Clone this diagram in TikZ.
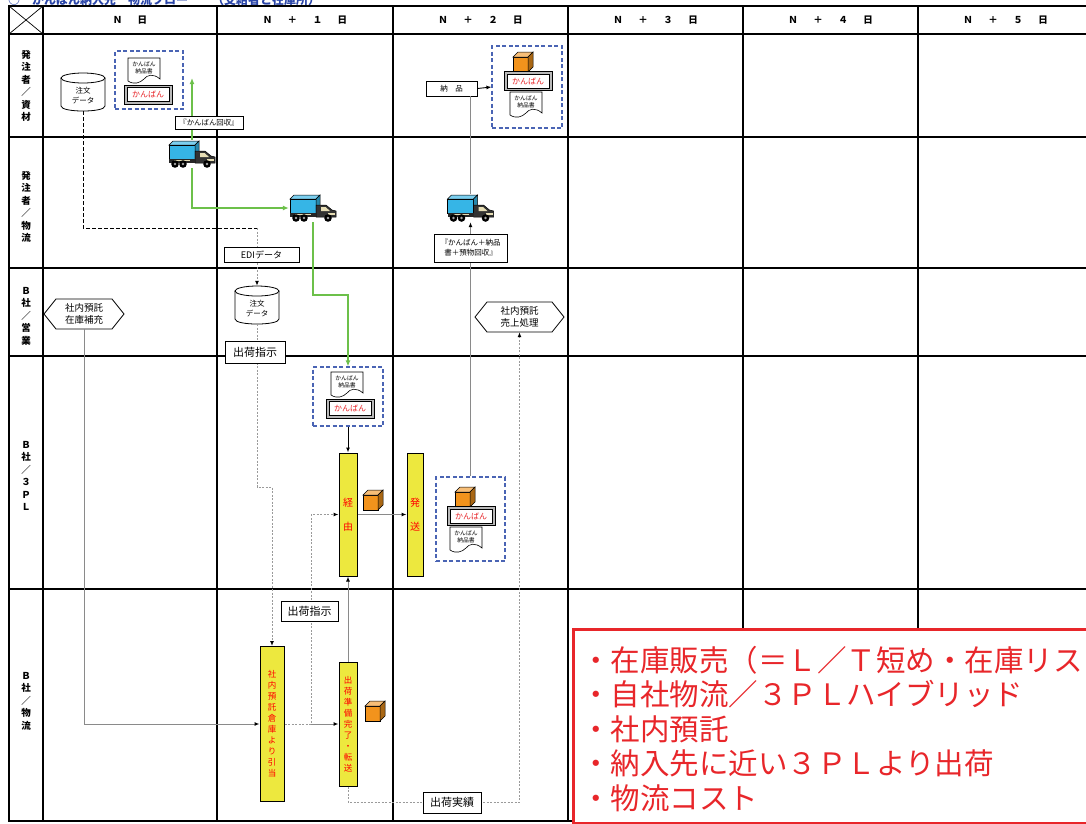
\documentclass[tikz,border=0pt]{standalone}
\usepackage{fontspec}
\setmainfont{Noto Sans CJK JP}
\usetikzlibrary{arrows.meta}

\definecolor{frameblue}{HTML}{4A64B4}
\definecolor{flowgreen}{HTML}{6CC04A}
\definecolor{baryellow}{HTML}{EDE83E}
\definecolor{memored}{HTML}{E8262A}
\definecolor{boxorange}{HTML}{F2931C}
\definecolor{truckcyan}{HTML}{36B5E6}
\definecolor{cabbeige}{HTML}{E6DDB4}
\definecolor{titleblue}{HTML}{2A45A8}
\definecolor{linegray}{HTML}{8A8A8A}
\definecolor{dotgray}{HTML}{9A9A9A}

\newcommand\fsz[2]{\fontsize{#1}{#2}\selectfont}
\newcommand\hsep{\hspace{15.5pt}}

% database drum centred at (#1,#2): 44 wide, 38 high
\newcommand\dbdrum[2]{%
  \draw[line width=0.8pt, fill=white]
    (#1-22,#2-14) -- (#1-22,#2+14)
    .. controls (#1-22,#2+20.7) and (#1+22,#2+20.7) .. (#1+22,#2+14)
    -- (#1+22,#2-14);
  \draw[line width=0.8pt, fill=white] (#1,#2-14) ellipse [x radius=22, y radius=5];
}
% hexagonal preparation symbol centred at (#1,#2), half width #3, half height #4
\newcommand\prephex[4]{%
  \draw[line width=0.8pt, fill=white]
    (#1-#3,#2) -- (#1-#3+12,#2-#4) -- (#1+#3-12,#2-#4) -- (#1+#3,#2)
    -- (#1+#3-12,#2+#4) -- (#1-#3+12,#2+#4) -- cycle;
}

\tikzset{
  gridline/.style={line width=2pt, line cap=rect},
  hdr/.style={font=\bfseries\fsz{9.5}{9.5}, inner sep=0pt},
  lane/.style={font=\bfseries\fsz{9.5}{12.5}, align=center, inner sep=0pt},
  tag/.style={draw, line width=0.9pt, fill=white, inner sep=0pt, align=center},
  drumspot/.style={minimum width=44, minimum height=38, inner sep=0pt},
  drumtext/.style={inner sep=0pt, align=center, font=\fsz{7.5}{9.5}},
  hextext/.style={inner sep=0pt, align=center, font=\fsz{9.5}{12}},
  kbframe/.style={draw=frameblue, line width=1.2pt, dash pattern=on 4pt off 2.5pt, inner sep=0pt},
  ybar/.style={draw, line width=1pt, fill=baryellow, text=red, inner sep=0pt, align=center},
  truckspot/.style={minimum width=48, minimum height=28, inner sep=0pt},
  headed/.style={-{Latex[length=5pt,width=4pt,color=black]}},
  green flow/.style={draw=flowgreen, line width=1.5pt, -{Latex[length=6pt,width=5pt]}},
  gray flow/.style={draw=linegray, line width=1pt},
  dot flow/.style={draw=dotgray, line width=1pt, dash pattern=on 2pt off 1.5pt},
  dash flow/.style={draw=black, line width=0.9pt, dash pattern=on 3.5pt off 2.5pt},
  memoline/.style={anchor=base west, inner sep=0pt, text=memored, font=\fsz{29.5}{29.5}},
  pics/kbcard/.style={code={
    \draw[line width=0.6pt, fill=gray!55] (-24,-9.5) rectangle (24,9.5);
    \draw[line width=0.6pt, fill=white] (-21,-7) rectangle (21,7);
    \node[text=memored, font=\fsz{8}{8}, inner sep=0pt] (-t) at (0,0) {かんばん};
  }},
  pics/kbdoc/.style={code={
    \draw[line width=0.6pt, fill=white] (-16,-13) -- (16,-13) -- (16,8)
      .. controls (9,2) and (3,4) .. (0,8) .. controls (-4,12) and (-10,14) .. (-16,10) -- cycle;
    \node[font=\fsz{5.8}{7.5}, align=center, inner sep=0pt] (-t) at (0,-3) {かんばん\\納品書};
  }},
  pics/kbbox/.style={code={
    \draw[line width=0.5pt, fill=boxorange] (-10,-5) rectangle (5,10);
    \draw[line width=0.5pt, fill=boxorange!60!white] (-10,-5) -- (-5,-10) -- (10,-10) -- (5,-5) -- cycle;
    \draw[line width=0.5pt, fill=boxorange!70!black] (5,-5) -- (10,-10) -- (10,5) -- (5,10) -- cycle;
  }},
  pics/truck/.style={code={
    \draw[line width=0.5pt, fill=truckcyan!65!white] (-23,-9) -- (-19,-13) -- (7,-13) -- (3,-9) -- cycle;
    \draw[line width=0.5pt, fill=truckcyan] (-23,-9) rectangle (3,5);
    \draw[line width=0.5pt, fill=truckcyan!75!black] (3,-9) -- (7,-13) -- (7,1) -- (3,5) -- cycle;
    \draw[line width=0.5pt, fill=black!80] (3,-3) -- (13,-3) -- (19,2) -- (23,3) -- (23,9) -- (3,9) -- cycle;
    \fill[cabbeige] (8,-1) -- (12.5,-1) -- (17,3) -- (8,3) -- cycle;
    \fill[cabbeige] (15,5) rectangle (22,7);
    \fill[black!85] (-23,5) rectangle (3,9);
    \fill[cabbeige] (-18,6) rectangle (-2,7.2);
    \foreach \wx in {-17,-9,15} {
      \fill[black] (\wx,10) circle[radius=3.8];
      \fill[gray!70] (\wx,10) circle[radius=1.3];
    }
  }},
}

\begin{document}
\begin{tikzpicture}[x=1pt,y=-1pt]
\useasboundingbox (0,0) rectangle (1086,823);

% sheet title (top edge of the sheet)
\node[anchor=base west, text=titleblue, font=\bfseries\fsz{12}{12}, inner sep=0pt] (title) at (8,4.5)
  {○　かんばん納入先　物流フロー　　（支給者と在庫所）};

% swim-lane grid
\foreach \gy in {6,34,137,268,356,589,821} \draw[gridline] (9,\gy) -- (1095,\gy);
\foreach \gx in {9,43,217,393,568,743,918} \draw[gridline] (\gx,6) -- (\gx,821);
\draw[line width=0.7pt] (9,6) -- (43,34) (9,34) -- (43,6);

% day headers
\node[hdr] (day0) at (130,20) {Ｎ\hsep 日};
\node[hdr] (day1) at (305,20) {Ｎ\hsep ＋\hsep １\hsep 日};
\node[hdr] (day2) at (480.5,20) {Ｎ\hsep ＋\hsep ２\hsep 日};
\node[hdr] (day3) at (655.5,20) {Ｎ\hsep ＋\hsep ３\hsep 日};
\node[hdr] (day4) at (830.5,20) {Ｎ\hsep ＋\hsep ４\hsep 日};
\node[hdr] (day5) at (1005.5,20) {Ｎ\hsep ＋\hsep ５\hsep 日};

% lane titles
\node[lane] (lane1) at (26,86) {発\\注\\者\\／\\資\\材};
\node[lane] (lane2) at (26,207) {発\\注\\者\\／\\物\\流};
\node[lane] (lane3) at (26,316) {Ｂ\\社\\／\\営\\業};
\node[lane] (lane4) at (26,476) {Ｂ\\社\\／\\３\\Ｐ\\Ｌ};
\node[lane] (lane5) at (26,701) {Ｂ\\社\\／\\物\\流};

% order data drums
\dbdrum{83}{92}
\node[drumspot] (drumA) at (83,92) {};
\node[drumtext] (drumAt) at (83,95.5) {注文\\データ};
\dbdrum{257}{305}
\node[drumspot] (drumB) at (257,305) {};
\node[drumtext] (drumBt) at (257,308.5) {注文\\データ};

% consignment steps
\prephex{84}{314}{40}{15}
\node[hextext, minimum width=80, minimum height=30] (hexA) at (84,314) {社内預託\\在庫補充};
\prephex{519.5}{317}{44.5}{15}
\node[hextext, minimum width=89, minimum height=30] (hexB) at (519.5,317) {社内預託\\売上処理};

% kanban bundles
\node[kbframe, minimum width=68, minimum height=58] (frameA) at (149,80) {};
\pic (docA) at (144,71) {kbdoc};
\pic (cardA) at (148,94.5) {kbcard};

\node[tag, minimum width=51, minimum height=15, font=\fsz{7.5}{7.5}] (nohin) at (451.5,88.5) {納　品};
\node[kbframe, minimum width=70, minimum height=82] (frameB) at (527,87) {};
\pic (cubeB) at (523,62) {kbbox};
\pic (cardB) at (528,81) {kbcard};
\pic (docB) at (526,105) {kbdoc};

\node[kbframe, minimum width=70, minimum height=59] (frameC) at (348,396.5) {};
\pic (docC) at (347,385) {kbdoc};
\pic (cardC) at (350,408.5) {kbcard};

\node[kbframe, minimum width=69, minimum height=84] (frameD) at (470.5,519) {};
\pic (cubeD) at (465,497) {kbbox};
\pic (cardD) at (471,516) {kbcard};
\pic (docD) at (466,540) {kbdoc};

\pic (cubeE) at (373,500) {kbbox};
\pic (cubeF) at (375,711) {kbbox};

% trucks
\node[truckspot] (truck1) at (192,154) {};
\pic (truckA) at (192,154) {truck};
\node[truckspot] (truck2) at (313,208) {};
\pic (truckB) at (313,208) {truck};
\node[truckspot] (truck3) at (470.5,208) {};
\pic (truckC) at (470.5,208) {truck};

% process bars
\node[ybar, minimum width=18, minimum height=123, font=\fsz{10}{24}] (barK) at (348,514.5) {経\\由};
\node[ybar, minimum width=16, minimum height=123, font=\fsz{10}{24}] (barH) at (415,514.5) {発\\送};
\node[ybar, minimum width=24, minimum height=155, font=\fsz{8.5}{11}] (barA) at (272,724)
  {社\\内\\預\\託\\倉\\庫\\よ\\り\\引\\当};
\node[ybar, minimum width=18, minimum height=124, font=\fsz{8.5}{11}] (barB) at (348,724)
  {出\\荷\\準\\備\\完\\了\\・\\転\\送};

% flows
\coordinate (ediTurn) at (257,228);
\draw[dash flow] (drumA.south) |- (ediTurn);
\draw[dot flow, headed] (ediTurn) -- (drumB.north);

\coordinate (gUp) at (192,78);
\draw[green flow] (truck1.north) -- (gUp);
\draw[green flow] (truck1.south) |- (truck2.west);
\coordinate (gTurn) at (348,295);
\draw[green flow] (truck2.south) |- (gTurn) -- (frameC.north);

\draw[gray flow, headed] (hexA.south) |- (barA.west);
\coordinate (pickJog) at (257,487);
\draw[dot flow, headed] (drumB.south) -- (pickJog) -| (barA.north);
\coordinate (relayTurn) at (311,724);
\draw[dot flow, headed] (barA.east) -- (relayTurn) |- (barK.west);
\draw[gray flow, headed] (relayTurn) -- (barB.west);
\draw[gray flow, headed] (barB.north) -- (barK.south);
\draw[black, line width=1pt, headed] (frameC.south) -- (barK.north);
\draw[gray flow, headed] (barK.east) -- (barH.west);
\coordinate (resultTurn) at (519.5,802);
\draw[dot flow, headed] (barB.south) |- (resultTurn) -- (hexB.south);
\draw[gray flow, headed] (frameD.north) -- (truck3.south);
\draw[gray flow] (truck3.north) -- (truck3.north |- nohin.south);
\draw[black, line width=0.9pt, headed] (nohin.east) -- (frameB.west);

% flow captions
\node[tag, minimum width=68, minimum height=13, font=\fsz{7.4}{7.4}] (tagA) at (209,122.5) {『かんばん回収』};
\node[tag, minimum width=75, minimum height=15, font=\fsz{9}{9}] (tagB) at (261.5,254.5) {EDIデータ};
\node[tag, minimum width=73, minimum height=28, font=\fsz{7.5}{10}] (tagC) at (470.5,248) {『かんばん＋納品\\書＋預物回収』};
\node[tag, minimum width=60, minimum height=22, font=\fsz{11}{11}] (tagD) at (255,352) {出荷指示};
\node[tag, minimum width=57, minimum height=20, font=\fsz{11}{11}] (tagE) at (309.5,611) {出荷指示};
\node[tag, minimum width=58, minimum height=21, font=\fsz{11}{11}] (tagF) at (452,802.5) {出荷実績};

% key points
\node[draw=memored, line width=3pt, fill=white, minimum width=540, minimum height=194,
      anchor=north west, inner sep=0pt] (memo) at (572,628) {};
\node[memoline] (memo1) at (581,671) {・在庫販売（＝Ｌ／Ｔ短め・在庫リス};
\node[memoline] (memo2) at (581,705.5) {・自社物流／３ＰＬハイブリッド};
\node[memoline] (memo3) at (581,740) {・社内預託};
\node[memoline] (memo4) at (581,774.5) {・納入先に近い３ＰＬより出荷};
\node[memoline] (memo5) at (581,809) {・物流コスト};
\end{tikzpicture}
\end{document}
